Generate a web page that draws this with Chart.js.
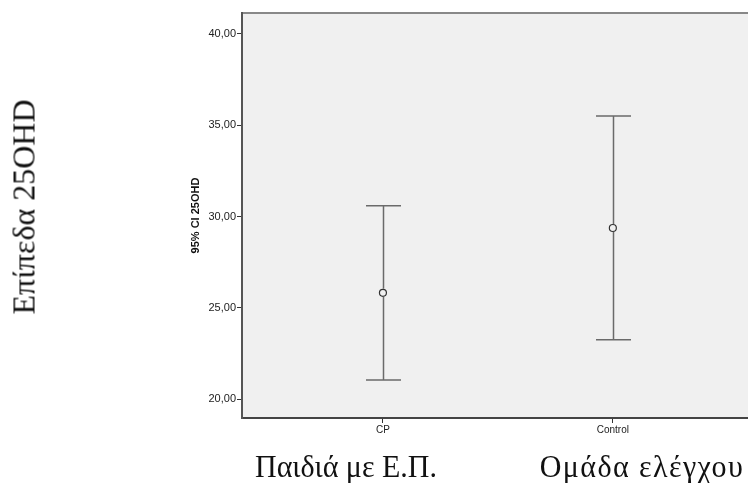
<!DOCTYPE html>
<html>
<head>
<meta charset="utf-8">
<script src="https://cdn.jsdelivr.net/npm/chart.js@4"></script>
<style>
  html, body { margin: 0; padding: 0; background: #fff; }
  #wrap { position: relative; width: 748px; height: 483px; overflow: hidden; }
  #c { position: absolute; left: 0; top: 0; }
  .big { position: absolute; font-family: "Liberation Serif", "DejaVu Serif", serif; color: #111; white-space: nowrap; }
  #ytitle { font-size: 32px; left: 24px; top: 207px; transform: translate(-50%, -50%) rotate(-90deg); }
  #lab1, #lab2 { font-size: 30px; top: 466px; }
  #lab1 { left: 346px; transform: translate(-50%, -50%) scale(1, 1.08); }
  #lab2 { left: 642px; letter-spacing: 1.4px; transform: translate(-50%, -50%) scale(1, 1.08); }
</style>
</head>
<body>
<div id="wrap">
  <canvas id="c" width="756" height="483"></canvas>
  <div class="big" id="ytitle">Επίπεδα 25OHD</div>
  <div class="big" id="lab1">Παιδιά με Ε.Π.</div>
  <div class="big" id="lab2">Ομάδα ελέγχου</div>
</div>
<script>
const groups = ['CP', 'Control'];
const means = [25.82, 29.37];
const lowerCI = [21.04, 23.25];
const upperCI = [30.59, 35.51];
const yTicks = [20, 25, 30, 35, 40];

const points = groups.map((g, i) => ({ x: i + 1, y: means[i] }));

const plotBackground = {
    id: 'plotBackground',
    beforeDraw(chart) {
        const a = chart.chartArea;
        const c = chart.ctx;
        c.save();
        c.fillStyle = '#f0f0f0';
        c.fillRect(a.left, a.top, chart.width - a.left, a.bottom - a.top);
        c.strokeStyle = '#888';
        c.lineWidth = 2;
        c.beginPath();
        c.moveTo(a.left, a.top);
        c.lineTo(chart.width, a.top);
        c.stroke();
        c.restore();
    }
};

const errorBars = {
    id: 'errorBars',
    afterDatasetsDraw(chart) {
        const c = chart.ctx;
        const xs = chart.scales.x;
        const ys = chart.scales.y;
        c.save();
        c.strokeStyle = '#6a6a6a';
        c.lineWidth = 1.5;
        groups.forEach((g, i) => {
            const px = Math.round(xs.getPixelForValue(i + 1)) + 0.5;
            const yl = ys.getPixelForValue(lowerCI[i]);
            const yu = ys.getPixelForValue(upperCI[i]);
            const ym = ys.getPixelForValue(means[i]);
            c.beginPath();
            c.moveTo(px, yu);
            c.lineTo(px, ym - 4);
            c.moveTo(px, ym + 4);
            c.lineTo(px, yl);
            c.moveTo(px - 17.5, yu);
            c.lineTo(px + 17.5, yu);
            c.moveTo(px - 17.5, yl);
            c.lineTo(px + 17.5, yl);
            c.stroke();
        });
        c.restore();
    }
};

new Chart(document.getElementById('c'), {
    type: 'scatter',
    data: {
        datasets: [{
            data: points,
            pointStyle: 'circle',
            pointRadius: 3.5,
            pointBorderWidth: 1.2,
            pointBorderColor: '#333',
            pointBackgroundColor: 'rgba(0,0,0,0)'
        }]
    },
    options: {
        responsive: false,
        animation: false,
        layout: { padding: { left: 189, top: 13, right: 0, bottom: 35 } },
        plugins: { legend: { display: false }, tooltip: { enabled: false } },
        scales: {
            x: {
                type: 'linear',
                min: 0.387,
                max: 2.6,
                afterBuildTicks: s => { s.ticks = groups.map((g, i) => ({ value: i + 1 })); },
                afterFit: s => { s.height = 30; },
                grid: { drawOnChartArea: false, tickLength: 5, color: '#333', lineWidth: 1 },
                border: { color: '#444', width: 2 },
                ticks: {
                    padding: 1,
                    color: '#222',
                    font: { family: 'Liberation Sans', size: 10 },
                    callback: v => groups[v - 1]
                }
            },
            y: {
                min: 18.96,
                max: 41.15,
                afterBuildTicks: s => { s.ticks = yTicks.map(v => ({ value: v })); },
                afterFit: s => { s.width = 53; },
                grid: { drawOnChartArea: false, tickLength: 5, color: '#333', lineWidth: 1 },
                border: { color: '#555', width: 2 },
                ticks: {
                    padding: 1,
                    color: '#222',
                    font: { family: 'Liberation Sans', size: 11 },
                    callback: v => v.toFixed(2).replace('.', ',')
                },
                title: {
                    display: true,
                    text: '95% CI 25OHD',
                    color: '#111',
                    padding: 0,
                    font: { family: 'Liberation Sans', size: 11, weight: 'bold' }
                }
            }
        }
    },
    plugins: [plotBackground, errorBars]
});
</script>
</body>
</html>
